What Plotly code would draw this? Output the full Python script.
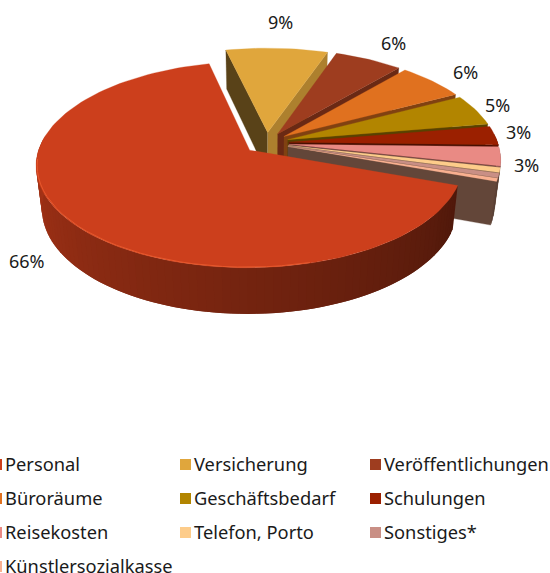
import numpy as np
import plotly.graph_objects as go

categories = ["Personal", "Versicherung", "Veröffentlichungen", "Büroräume", "Geschäftsbedarf",
              "Schulungen", "Reisekosten", "Telefon, Porto", "Sonstiges*", "Künstlersozialkasse"]
values = [65.7, 9, 6, 6, 5, 3, 3, 0.8, 0.7, 0.5]
colors = ["#cc3f1c", "#e0a63c", "#9e3d1f", "#e0711f", "#b28500",
          "#9b2000", "#e98a84", "#fdcc8a", "#c98f85", "#f9b090"]
pct_labels = ["66%", "9%", "6%", "6%", "5%", "3%", "3%"]
label_xy = [(27, 261), (280, 22), (393, 43), (465, 72), (497, 105), (518, 132), (526, 165)]

W, H = 550, 573
CX, CY = 266.5, 143.0
A, S, K, DEPTH, M = 209.0, 99.0, 0.14, 43.5, 0.025
EXPLODE = 0.107
START = -19.5


def project(px, py, z):
    w = 1 + K * py - M * z
    return CX + A * px / w, CY - (S * py + DEPTH * z) / w


def shade(hex_c, f):
    r, g, b = (int(hex_c[i:i + 2], 16) for i in (1, 3, 5))
    return f"rgb({int(r * f)},{int(g * f)},{int(b * f)})"


def rim_factor(t):
    t = t % 360
    return float(np.interp(t, [0, 160, 180, 270, 342, 360], [.62, .85, .81, .57, .39, .62]))


def face_factor(n):
    n = (n + 360) % 360
    return float(np.interp(n, [194, 252, 280, 292, 320, 342], [.40, .40, .5, .55, .68, .78]))


fig = go.Figure()


def poly(xs, ys, color, line=0.0):
    fig.add_trace(go.Scatter(x=list(xs), y=list(ys), mode="lines", fill="toself", fillcolor=color,
                             line=dict(color=color, width=line), hoverinfo="skip", showlegend=False))


fracs = np.array(values) / sum(values) * 360
ends = START - np.cumsum(fracs)
starts = ends + fracs
order = list(range(1, len(values))) + [0]

for i in order:
    t0, t1 = starts[i], ends[i]   # clockwise from t0 to t1
    mid = np.radians((t0 + t1) / 2)
    ox, oy = EXPLODE * np.cos(mid), EXPLODE * np.sin(mid)
    col = colors[i]
    th = np.radians(np.linspace(t0, t1, max(int(abs(t1 - t0) / 2), 2) + 1))
    rx, ry = ox + np.cos(th), oy + np.sin(th)

    # radial faces
    for ang, normal in ((t0, t0 + 90), (t1, t1 - 90)):
        if np.sin(np.radians(normal)) < 0:
            a = np.radians(ang)
            pts = [project(ox, oy, 0), project(ox + np.cos(a), oy + np.sin(a), 0),
                   project(ox + np.cos(a), oy + np.sin(a), -1), project(ox, oy, -1)]
            poly([p[0] for p in pts], [p[1] for p in pts], shade(col, face_factor(normal)), 0.3)

    # curved rim: each band overlaps the next one so no seams show
    for j in range(len(th) - 1):
        tm = (th[j] + th[j + 1]) / 2
        if np.sin(tm) < 0.1:
            k = min(j + 2, len(th) - 1)
            pts = [project(rx[j], ry[j], 0), project(rx[k], ry[k], 0),
                   project(rx[k], ry[k], -1), project(rx[j], ry[j], -1)]
            poly([p[0] for p in pts], [p[1] for p in pts], shade(col, rim_factor(np.degrees(tm))))

    # top
    px = np.concatenate([[ox], rx])
    py = np.concatenate([[oy], ry])
    sx, sy = project(px, py, 0)
    poly(np.append(sx, sx[0]), np.append(sy, sy[0]), col, 0.3)

# bevel highlight along the front rim of the first slice
i = 0
mid = np.radians((starts[i] + ends[i]) / 2)
ox, oy = EXPLODE * np.cos(mid), EXPLODE * np.sin(mid)
hl = np.radians(np.linspace(185, 285, 30))
bx, by = project(ox + 0.995 * np.cos(hl), oy + 0.995 * np.sin(hl), 0)
fig.add_trace(go.Scatter(x=bx, y=by, mode="lines", line=dict(color="#e8582c", width=1.0),
                         hoverinfo="skip", showlegend=False))

# legend
col_x = [-3.5, 185.5, 375.5]
row_y = [464.5, 498.5, 532.5, 566.5]
leg_x = [col_x[k % 3] for k in range(len(categories))]
leg_y = [row_y[k // 3] for k in range(len(categories))]
fig.add_trace(go.Scatter(x=leg_x, y=leg_y, mode="markers",
                         marker=dict(symbol="square", size=11, color=colors, line=dict(width=0)),
                         hoverinfo="skip", showlegend=False))
FONT = "Noto Sans"
for name, lx, ly in zip(categories, leg_x, leg_y):
    fig.add_annotation(x=lx + 6.5, y=ly - 1, text=name, showarrow=False, xanchor="left", yanchor="middle",
                       font=dict(family=FONT, size=18.3, color="#1a1a1a"))
for txt, (lx, ly) in zip(pct_labels, label_xy):
    fig.add_annotation(x=lx, y=ly, text=txt, showarrow=False, xanchor="center", yanchor="middle",
                       font=dict(family=FONT, size=18, color="#1a1a1a"))

fig.update_layout(width=W, height=H, margin=dict(l=0, r=0, t=0, b=0), paper_bgcolor="white",
                  plot_bgcolor="white", showlegend=False,
                  xaxis=dict(range=[0, W], visible=False, fixedrange=True),
                  yaxis=dict(range=[H, 0], visible=False, fixedrange=True))
fig.write_html("out.html", config=dict(displayModeBar=False),
               post_script="document.body.style.margin='0';document.body.style.overflow='hidden';")
